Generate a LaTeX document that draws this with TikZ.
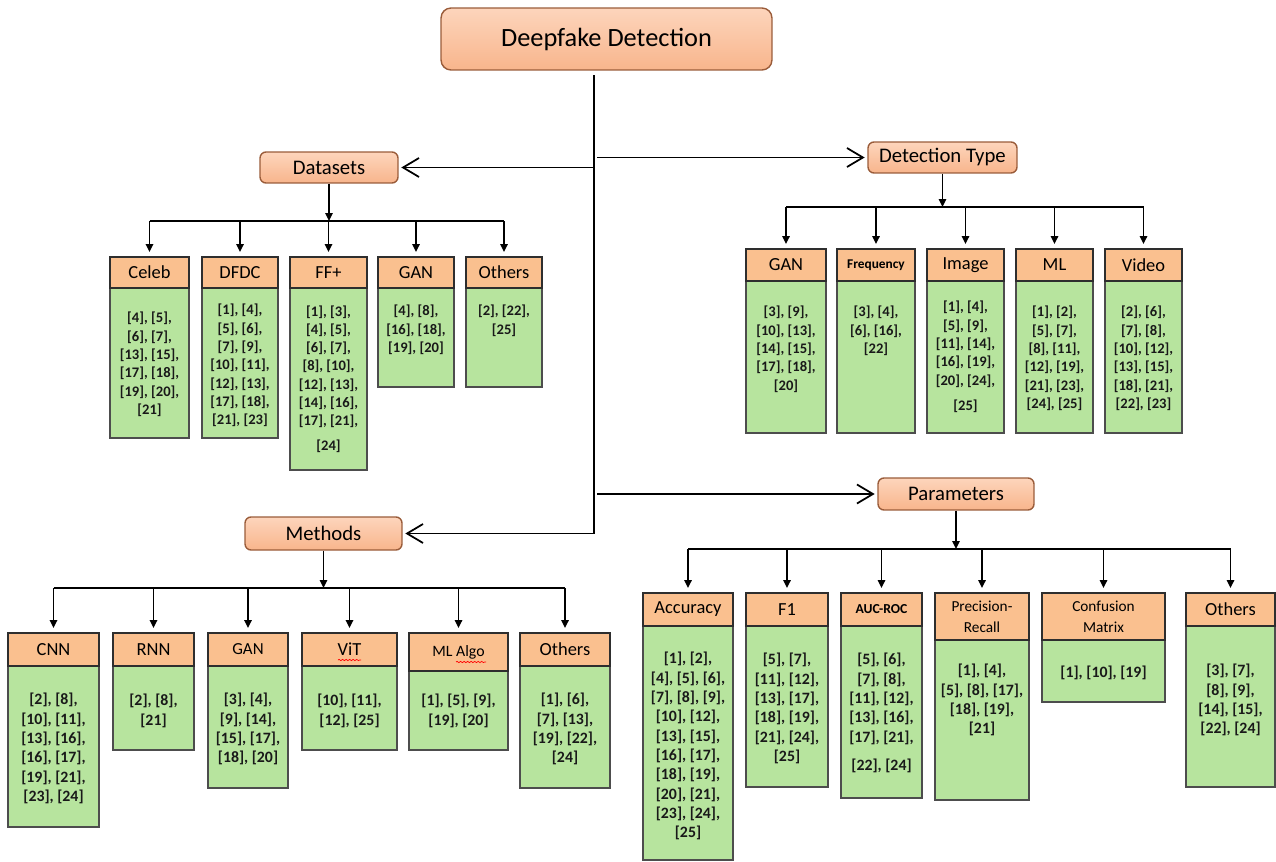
\documentclass[tikz,border=0pt]{standalone}
\usepackage{fontspec}
\setmainfont{Carlito}
\usetikzlibrary{arrows.meta,decorations.pathmorphing}

\definecolor{topfillA}{HTML}{FDD5BC}
\definecolor{topfillB}{HTML}{F8B58C}
\definecolor{topborder}{HTML}{9A5C3A}
\definecolor{headfill}{HTML}{FAC08F}
\definecolor{bodyfill}{HTML}{B7E49E}
\definecolor{boxline}{HTML}{2E2E2E}

\newcommand{\br}{\\\relax}
\newcommand{\smallhd}{\fontsize{8.7}{11.3}\selectfont}
% name, x left, x right, y top, y header bottom, y bottom, header, refs, y first line
\newcommand{\leaf}[9]{%
  \node[body, minimum width={(#3-#2)*0.02cm}, minimum height={(#6-#5)*0.02cm}]
    (#1) at ({(#2+#3)/2},{(#5+#6)/2}) {};
  \node[hdr, minimum width={(#3-#2)*0.02cm}, minimum height={(#5-#4)*0.02cm}]
    (h#1) at ({(#2+#3)/2},{(#4+#5)/2}) {#7};
  \node[refs] (t#1) at ({(#2+#3)/2},#9-6) {#8};
}

\begin{document}
\begin{tikzpicture}
  [x=0.02cm, y=-0.02cm,
   main/.style={draw=topborder, line width=0.8pt, rounded corners=1.2mm,
     top color=topfillA, bottom color=topfillB, inner sep=0pt,
     font=\fontsize{11.8}{14}\selectfont},
   hdr/.style={draw=boxline, line width=1.1pt, fill=headfill, inner sep=0pt,
     align=center, font=\fontsize{10.5}{12}\selectfont},
   body/.style={draw=boxline!85, line width=0.7pt, fill=bodyfill, inner sep=0pt},
   refs/.style={anchor=north, inner sep=0pt, align=center, text=black!90,
     font=\bfseries\fontsize{8.3}{10.4}\selectfont},
   line/.style={line width=1pt},
   barb/.style={line width=1pt, -{Straight Barb[length=3.2mm, width=3.8mm]}, shorten >=1.5pt},
   drop/.style={line width=0.9pt, -{Triangle[length=1.6mm, width=1.5mm]}},
   squiggle/.style={red, line width=0.4pt, decorate,
     decoration={snake, amplitude=0.35pt, segment length=2pt}}]

  \useasboundingbox (0,0) rectangle (1276,862);

  \node[main, rounded corners=2mm, minimum width=6.62cm, minimum height=1.24cm,
    font=\fontsize{15}{18}\selectfont] (root) at (606.5,39) {Deepfake Detection};
  \node[main, minimum width=2.76cm, minimum height=0.62cm] (ds) at (329,167.5) {Datasets};
  \node[main, minimum width=2.98cm, minimum height=0.62cm] (dt) at (942.5,157.5) {Detection Type};
  \node[main, minimum width=3.14cm, minimum height=0.66cm] (me) at (323.5,533.5) {Methods};
  \node[main, minimum width=3.12cm, minimum height=0.64cm] (pa) at (956,494) {Parameters};

  \coordinate (ttop) at (594,75);
  \coordinate (tbot) at (594,533.5);
  \draw[line] (ttop) -- (tbot);
  \draw[barb] (ttop |- ds.east) -- (ds.east);
  \draw[barb] ([xshift=0.06cm]ttop |- dt.west) -- (dt.west);
  \draw[barb] (tbot) -- (me.east);
  \draw[barb] ([xshift=0.06cm]ttop |- pa.west) -- (pa.west);

  \leaf{ds1}{110}{189}{257}{288}{438}{Celeb}
    {[4], [5],\br [6], [7],\br [13], [15],\br [17], [18],\br [19], [20],\br [21]}{318}
  \leaf{ds2}{202}{278}{257}{288}{438}{DFDC}
    {[1], [4],\br [5], [6],\br [7], [9],\br [10], [11],\br [12], [13],\br [17], [18],\br [21], [23]}{310}
  \leaf{ds3}{290}{367}{257}{288}{470}{FF+}
    {[1], [3],\br [4], [5],\br [6], [7],\br [8], [10],\br [12], [13],\br [14], [16],\br [17], [21],\\[4pt] [24]}{311}
  \leaf{ds4}{378}{454}{257}{288}{387}{GAN}
    {[4], [8],\br [16], [18],\br [19], [20]}{311}
  \leaf{ds5}{466}{542}{257}{288}{387}{Others}
    {[2], [22],\br [25]}{311}

  \coordinate (dsbus) at (333,221);
  \draw[drop] (ds.south) -- (ds.south |- dsbus);
  \draw[line] (dsbus -| hds1.north) -- (dsbus -| hds5.north);
  \foreach \n in {ds1,ds2,ds3,ds4,ds5}
    \draw[drop] (dsbus -| h\n.north) -- ([yshift=0.08cm]h\n.north);

  \leaf{dt1}{746}{826}{249}{281}{433}{GAN}
    {[3], [9],\br [10], [13],\br [14], [15],\br [17], [18],\br [20]}{312}
  \leaf{dt2}{837}{915}{249}{281}{433}{\bfseries\fontsize{7.6}{9}\selectfont Frequency}
    {[3], [4],\br [6], [16],\br [22]}{312}
  \leaf{dt3}{927}{1004}{249}{281}{433}{Image}
    {[1], [4],\br [5], [9],\br [11], [14],\br [16], [19],\br [20], [24],\\[4pt] [25]}{307}
  \leaf{dt4}{1016}{1093}{249}{281}{433}{ML}
    {[1], [2],\br [5], [7],\br [8], [11],\br [12], [19],\br [21], [23],\br [24], [25]}{312}
  \leaf{dt5}{1105}{1182}{249}{281}{433}{Video}
    {[2], [6],\br [7], [8],\br [10], [12],\br [13], [15],\br [18], [21],\br [22], [23]}{312}

  \coordinate (dtbus) at (942,207);
  \draw[drop] (dt.south) -- (dt.south |- dtbus);
  \draw[line] (dtbus -| hdt1.north) -- (dtbus -| hdt5.north);
  \foreach \n in {dt1,dt2,dt3,dt4,dt5}
    \draw[drop] (dtbus -| h\n.north) -- ([yshift=0.08cm]h\n.north);

  \begin{scope}[refs/.append style={font=\bfseries\fontsize{9}{11}\selectfont}]
  \leaf{me1}{8}{99}{633}{666}{827}{CNN}
    {[2], [8],\br [10], [11],\br [13], [16],\br [16], [17],\br [19], [21],\br [23], [24]}{699}
  \leaf{me2}{113}{194}{633}{666}{750}{RNN}
    {[2], [8],\br [21]}{700}
  \leaf{me3}{208}{288}{633}{666}{788}{\fontsize{9.6}{11}\selectfont GAN}
    {[3], [4],\br [9], [14],\br [15], [17],\br [18], [20]}{699}
  \leaf{me4}{302}{397}{633}{666}{750}{ViT}
    {[10], [11],\br [12], [25]}{700}
  \leaf{me5}{409}{508}{633}{671}{750}{\fontsize{9}{11}\selectfont ML Algo}
    {[1], [5], [9],\br [19], [20]}{700}
  \leaf{me6}{520}{610}{633}{666}{788}{Others}
    {[1], [6],\br [7], [13],\br [19], [22],\br [24]}{699}

  \leaf{pa1}{643}{733}{593}{626}{860}{Accuracy}
    {[1], [2],\br [4], [5], [6],\br [7], [8], [9],\br [10], [12],\br [13], [15],\br [16], [17],\br [18], [19],\br [20], [21],\br [23], [24],\br [25]}{658}
  \leaf{pa2}{746}{828}{593}{626}{787}{F1}
    {[5], [7],\br [11], [12],\br [13], [17],\br [18], [19],\br [21], [24],\br [25]}{659}
  \leaf{pa3}{841}{922}{593}{626}{798}{\bfseries\fontsize{7.8}{9}\selectfont AUC-ROC}
    {[5], [6],\br [7], [8],\br [11], [12],\br [13], [16],\br [17], [21],\\[5pt] [22], [24]}{659}
  \leaf{pa4}{935}{1029}{593}{640}{800}{{\smallhd Precision-}\\{\smallhd Recall}}
    {[1], [4],\br [5], [8], [17],\br [18], [19],\br [21]}{670}
  \leaf{pa5}{1042}{1165}{593}{640}{702}{{\smallhd Confusion}\\{\smallhd Matrix}}
    {[1], [10], [19]}{672}
  \leaf{pa6}{1186}{1275}{593}{626}{787}{Others}
    {[3], [7],\br [8], [9],\br [14], [15],\br [22], [24]}{670}
  \end{scope}

  \coordinate (mebus) at (323,588);
  \draw[drop] (me.south) -- (me.south |- mebus);
  \draw[line] (mebus -| hme1.north) -- (mebus -| hme6.north);
  \foreach \n in {me1,me2,me3,me4,me5,me6}
    \draw[drop] (mebus -| h\n.north) -- ([yshift=0.08cm]h\n.north);

  \coordinate (pabus) at (957,549);
  \draw[drop] (pa.south) -- (pa.south |- pabus);
  \draw[line] (pabus -| hpa1.north) -- (pabus -| hpa6.north);
  \foreach \n in {pa1,pa2,pa3,pa4,pa5,pa6}
    \draw[drop] (pabus -| h\n.north) -- ([yshift=0.08cm]h\n.north);

  \draw[squiggle] (338,660) -- (361,660);
  \draw[squiggle] (456,662) -- (486,662);
\end{tikzpicture}
\end{document}
